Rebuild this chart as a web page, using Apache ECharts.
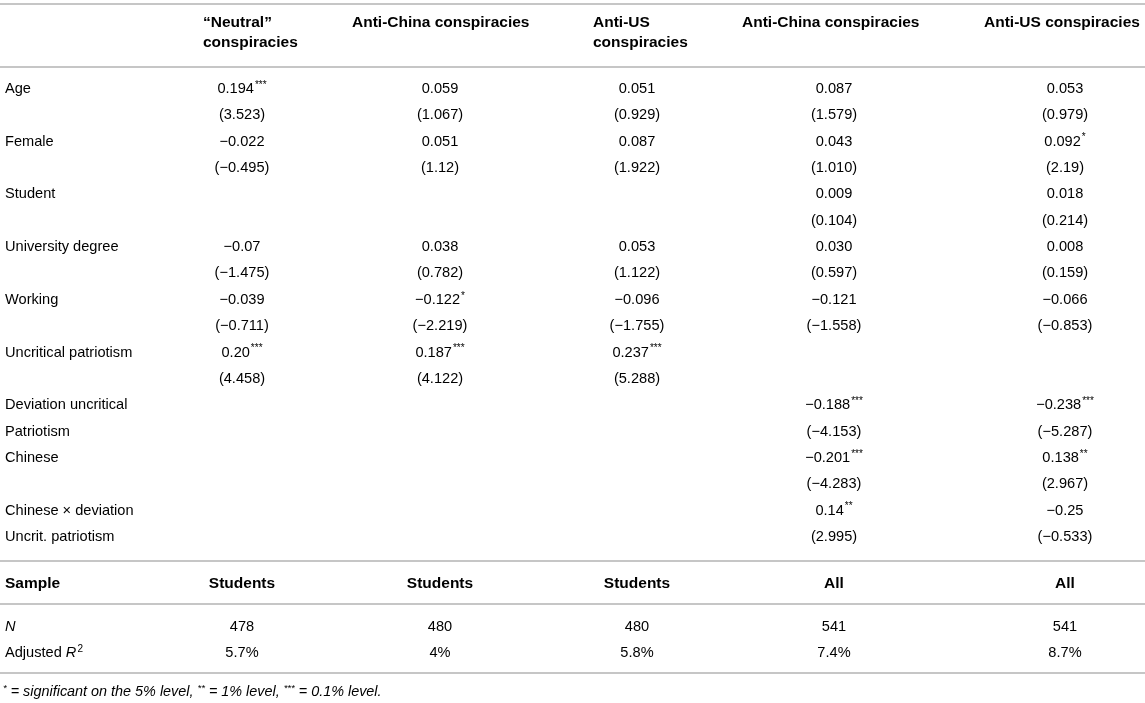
<!DOCTYPE html>
<html>
<head>
<meta charset="utf-8">
<script src="https://cdn.jsdelivr.net/npm/echarts@6/dist/echarts.min.js"></script>
<style>
html,body{margin:0;padding:0;background:#fff;}
#chart{width:1145px;height:703px;}
</style>
</head>
<body>
<div id="chart"></div>
<script>
// ---------- DATA ----------
const modelHeaders = [
  ['“Neutral”', 'conspiracies'],
  ['Anti-China conspiracies'],
  ['Anti-US', 'conspiracies'],
  ['Anti-China conspiracies'],
  ['Anti-US conspiracies']
];
const rowLabels = [
  'Age', '', 'Female', '', 'Student', '', 'University degree', '', 'Working', '',
  'Uncritical patriotism', '', 'Deviation uncritical', 'Patriotism', 'Chinese', '',
  'Chinese × deviation', 'Uncrit. patriotism'
];
const neutralConsp = ['0.194***','(3.523)','−0.022','(−0.495)','','','−0.07','(−1.475)','−0.039','(−0.711)','0.20***','(4.458)','','','','','',''];
const antiChinaStudents = ['0.059','(1.067)','0.051','(1.12)','','','0.038','(0.782)','−0.122*','(−2.219)','0.187***','(4.122)','','','','','',''];
const antiUSStudents = ['0.051','(0.929)','0.087','(1.922)','','','0.053','(1.122)','−0.096','(−1.755)','0.237***','(5.288)','','','','','',''];
const antiChinaAll = ['0.087','(1.579)','0.043','(1.010)','0.009','(0.104)','0.030','(0.597)','−0.121','(−1.558)','','','−0.188***','(−4.153)','−0.201***','(−4.283)','0.14**','(2.995)'];
const antiUSAll = ['0.053','(0.979)','0.092*','(2.19)','0.018','(0.214)','0.008','(0.159)','−0.066','(−0.853)','','','−0.238***','(−5.287)','0.138**','(2.967)','−0.25','(−0.533)'];
const sampleRow = ['Students','Students','Students','All','All'];
const nRow = ['478','480','480','541','541'];
const adjR2Row = ['5.7%','4%','5.8%','7.4%','8.7%'];
const footnote = '* = significant on the 5% level, ** = 1% level, *** = 0.1% level.';

// ---------- LAYOUT ----------
const W = 1145, H = 703;
const L = {
  labelX: 5,
  headerX: [203, 352, 593, 742, 984],
  colX: [242, 440, 637, 834, 1065],
  headY: 23, headLH: 20,
  bodyTop: 89, rowStep: 26.35,
  sampleY: 584, nY: 627, r2Y: 653, footY: 692,
  rules: [4, 67, 561, 604, 673]
};
const FONT = '"Liberation Sans", Arial, Helvetica, sans-serif';
const columns = [neutralConsp, antiChinaStudents, antiUSStudents, antiChinaAll, antiUSAll];

function starRich(s) {
  const m = s.match(/^(.*?)(\*+)$/);
  if (!m) return '{n|' + s + '}';
  return '{n|' + m[1] + '}{s|' + m[2] + '}';
}

const items = [];
modelHeaders.forEach((lines, j) => {
  lines.forEach((t, k) => items.push({x: L.headerX[j], y: L.headY + k * L.headLH, text: '{b|' + t + '}', align: 'left'}));
});
rowLabels.forEach((lab, i) => {
  const y = L.bodyTop + i * L.rowStep;
  if (lab) items.push({x: L.labelX, y, text: '{n|' + lab + '}', align: 'left'});
  columns.forEach((col, j) => {
    if (col[i]) items.push({x: L.colX[j], y, text: starRich(col[i]), align: 'center'});
  });
});
items.push({x: L.labelX, y: L.sampleY, text: '{b|Sample}', align: 'left'});
sampleRow.forEach((t, j) => items.push({x: L.colX[j], y: L.sampleY, text: '{b|' + t + '}', align: 'center'}));
items.push({x: L.labelX, y: L.nY, text: '{i|N}', align: 'left'});
nRow.forEach((t, j) => items.push({x: L.colX[j], y: L.nY, text: '{n|' + t + '}', align: 'center'}));
items.push({x: L.labelX, y: L.r2Y, text: '{n|Adjusted }{i|R}{s|2}', align: 'left'});
adjR2Row.forEach((t, j) => items.push({x: L.colX[j], y: L.r2Y, text: '{n|' + t + '}', align: 'center'}));
items.push({x: 3, y: L.footY, text: footnote.split(/(\*+)/).map(p => /^\*+$/.test(p) ? '{fs|' + p + '}' : (p ? '{f|' + p + '}' : '')).join(''), align: 'left'});

const rich = {
  n: {fontFamily: FONT, fontSize: 14.6, color: '#333', lineHeight: 18},
  b: {fontFamily: FONT, fontSize: 15.5, fontWeight: 'bold', color: '#111', lineHeight: 18},
  i: {fontFamily: FONT, fontSize: 14.6, fontStyle: 'italic', color: '#333', lineHeight: 18},
  s: {fontFamily: FONT, fontSize: 10, color: '#444', verticalAlign: 'top', lineHeight: 18, padding: [0, 0, 0, 1]},
  f: {fontFamily: FONT, fontSize: 14.4, fontStyle: 'italic', color: '#333', lineHeight: 17},
  fs: {fontFamily: FONT, fontSize: 9.5, fontStyle: 'italic', color: '#444', verticalAlign: 'top', lineHeight: 17}
};

const chart = echarts.init(document.getElementById('chart'), null, {renderer: 'canvas'});
chart.setOption({
  animation: false,
  backgroundColor: '#fff',
  grid: {left: 0, right: 0, top: 0, bottom: 0},
  xAxis: {type: 'value', min: 0, max: W, show: false},
  yAxis: {type: 'value', min: 0, max: H, inverse: true, show: false},
  series: [{
    type: 'custom',
    data: items.map(it => [it.x, it.y]),
    renderItem: function (params, api) {
      const it = items[params.dataIndex];
      const p = api.coord([api.value(0), api.value(1)]);
      return {
        type: 'text',
        x: p[0], y: p[1],
        style: {text: it.text, rich: rich, align: it.align, verticalAlign: 'middle'}
      };
    },
    markLine: {
      silent: true, symbol: 'none', animation: false,
      label: {show: false},
      lineStyle: {color: '#c6c6c6', width: 2, type: 'solid'},
      data: L.rules.map(y => ({yAxis: y}))
    }
  }]
});
</script>
</body>
</html>
